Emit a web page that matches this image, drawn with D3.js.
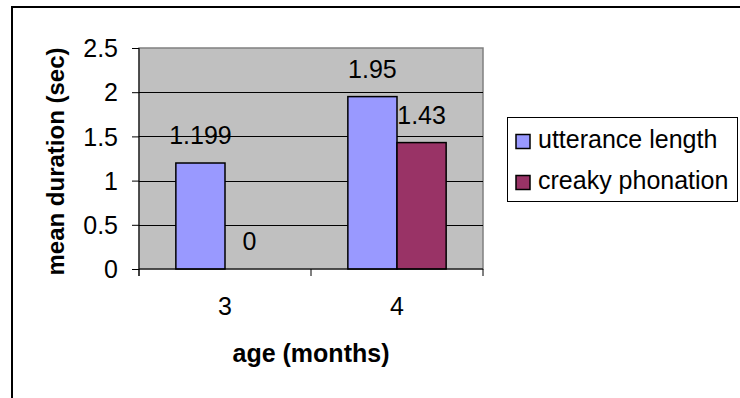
<!DOCTYPE html>
<html>
<head>
<meta charset="utf-8">
<script src="https://cdn.jsdelivr.net/npm/d3@7"></script>
<style>
  html, body { margin: 0; padding: 0; background: #fff; }
  svg { display: block; }
  text { font-family: "Liberation Sans", Arial, sans-serif; fill: #000; }
</style>
</head>
<body>
<svg id="chart" width="740" height="398"></svg>
<script>
// Mean durations by infant age
const ages = ["3", "4"];
const seriesNames = ["utterance length", "creaky phonation"];
const utteranceLength = [1.199, 1.95];
const creakyPhonation = [0, 1.43];
const seriesColors = ["#9999FF", "#993366"];
const yTicks = [0, 0.5, 1, 1.5, 2, 2.5];

const seriesValues = [utteranceLength, creakyPhonation];
const rows = ages.map((age, i) => ({
  age,
  values: seriesNames.map((name, s) => ({ name, s, value: seriesValues[s][i] }))
}));

const FONT = 25;
const svg = d3.select("#chart");
const plot = { left: 139, right: 483, top: 48, bottom: 269 };

// Outer chart frame (runs off the right and bottom edges)
svg.append("rect")
  .attr("x", 12).attr("y", 7)
  .attr("width", 800).attr("height", 500)
  .attr("fill", "#fff")
  .attr("stroke", "#000").attr("stroke-width", 2);

const x0 = d3.scaleBand().domain(ages).range([plot.left, plot.right]).padding(0);
// Gap width of 150% between clusters
const x1 = d3.scaleBand().domain(seriesNames).range([0, x0.bandwidth()])
  .paddingInner(0).paddingOuter(0.75);
const y = d3.scaleLinear().domain([0, 2.5]).range([plot.bottom, plot.top]);

// Plot area
svg.append("rect")
  .attr("x", plot.left).attr("y", plot.top)
  .attr("width", plot.right - plot.left).attr("height", plot.bottom - plot.top)
  .attr("fill", "#C0C0C0")
  .attr("stroke", "#808080").attr("stroke-width", 1.5);

// Horizontal gridlines
svg.append("g").selectAll("line")
  .data(yTicks.filter(t => t > 0 && t < 2.5))
  .join("line")
  .attr("x1", plot.left).attr("x2", plot.right)
  .attr("y1", d => Math.round(y(d)) + 0.5).attr("y2", d => Math.round(y(d)) + 0.5)
  .attr("stroke", "#000").attr("stroke-width", 1);

// Bars
const groups = svg.append("g").selectAll("g")
  .data(rows).join("g")
  .attr("transform", d => `translate(${x0(d.age)},0)`);

groups.selectAll("rect")
  .data(d => d.values.filter(v => v.value > 0))
  .join("rect")
  .attr("x", d => x1(d.name))
  .attr("y", d => y(d.value))
  .attr("width", x1.bandwidth())
  .attr("height", d => y(0) - y(d.value))
  .attr("fill", d => seriesColors[d.s])
  .attr("stroke", "#000").attr("stroke-width", 1.5);

// Value labels above each bar
groups.selectAll("text")
  .data(d => d.values)
  .join("text")
  .attr("x", d => x1(d.name) + x1.bandwidth() / 2)
  .attr("y", d => y(d.value) - 19)
  .attr("text-anchor", "middle")
  .attr("font-size", FONT)
  .text(d => String(d.value));

// Y axis
const yAxis = d3.axisLeft(y).tickValues(yTicks).tickSize(7).tickPadding(14)
  .tickFormat(d => String(d));
const gy = svg.append("g").attr("transform", `translate(${plot.left},0)`).call(yAxis);
gy.select(".domain").attr("stroke", "#000").attr("d", `M0,${plot.top}V${plot.bottom + 7}`);
gy.selectAll(".tick line").attr("stroke", "#000");
gy.selectAll(".tick text").attr("font-size", FONT).attr("font-family", null).attr("dy", "0.35em");

// X axis: ticks sit on category boundaries
const xAxis = d3.axisBottom(x0).tickSize(0).tickPadding(28);
const gx = svg.append("g").attr("transform", `translate(0,${plot.bottom})`).call(xAxis);
gx.select(".domain").attr("stroke", "#000").attr("d", `M${plot.left},0H${plot.right}`);
gx.selectAll(".tick text").attr("font-size", FONT).attr("font-family", null);
gx.selectAll(".boundary")
  .data([plot.left, x0("4"), plot.right])
  .join("line")
  .attr("class", "boundary")
  .attr("x1", d => d).attr("x2", d => d)
  .attr("y1", 0).attr("y2", 7)
  .attr("stroke", "#000");

// Axis titles
svg.append("text")
  .attr("x", (plot.left + plot.right) / 2).attr("y", 362)
  .attr("text-anchor", "middle")
  .attr("font-size", FONT).attr("font-weight", "bold")
  .text("age (months)");

svg.append("text")
  .attr("transform", `translate(64,${(plot.top + plot.bottom) / 2 + 3}) rotate(-90)`)
  .attr("text-anchor", "middle")
  .attr("font-size", 24).attr("font-weight", "bold")
  .text("mean duration (sec)");

// Legend
const legend = svg.append("g");
legend.append("rect")
  .attr("x", 507.5).attr("y", 117.5).attr("width", 230).attr("height", 84)
  .attr("fill", "#fff").attr("stroke", "#000").attr("stroke-width", 1);
const items = legend.selectAll("g.item")
  .data(seriesNames).join("g").attr("class", "item")
  .attr("transform", (d, i) => `translate(516,${134.5 + i * 41})`);
items.append("rect")
  .attr("width", 14).attr("height", 14)
  .attr("fill", (d, i) => seriesColors[i])
  .attr("stroke", "#000").attr("stroke-width", 1.5);
items.append("text")
  .attr("x", 22).attr("y", 13.5)
  .attr("font-size", FONT)
  .text(d => d);
</script>
</body>
</html>
